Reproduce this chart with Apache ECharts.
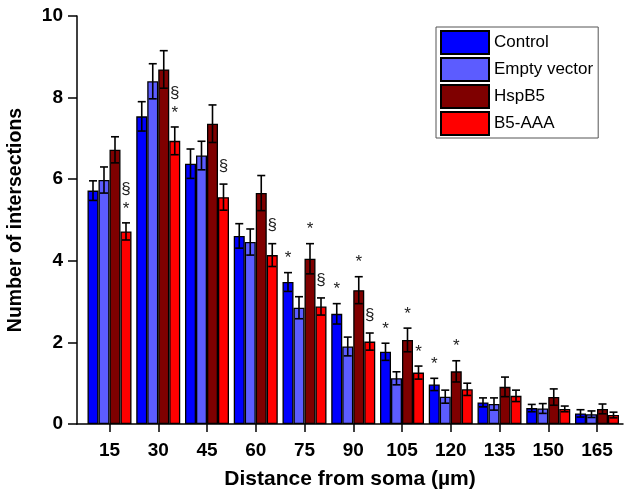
<!DOCTYPE html>
<html>
<head>
<meta charset="utf-8">
<script src="https://cdn.jsdelivr.net/npm/echarts@6/dist/echarts.min.js"></script>
<style>
  html, body { margin: 0; padding: 0; background: #fff; }
  #chart { width: 625px; height: 490px; }
</style>
</head>
<body>
<div id="chart"></div>
<script>
// distance from soma (um)
const distances = [15, 30, 45, 60, 75, 90, 105, 120, 135, 150, 165];

// mean number of intersections and SEM per group
const control     = [5.72, 7.54, 6.38, 4.61, 3.48, 2.70, 1.77, 0.97, 0.53, 0.39, 0.26];
const controlSem  = [0.24, 0.36, 0.36, 0.30, 0.23, 0.25, 0.21, 0.15, 0.11, 0.09, 0.09];
const emptyVec    = [5.98, 8.40, 6.58, 4.46, 2.85, 1.90, 1.12, 0.67, 0.49, 0.38, 0.24];
const emptyVecSem = [0.32, 0.43, 0.35, 0.32, 0.27, 0.23, 0.16, 0.16, 0.15, 0.12, 0.08];
const hspb5       = [6.72, 8.69, 7.36, 5.66, 4.05, 3.28, 2.06, 1.29, 0.91, 0.66, 0.37];
const hspb5Sem    = [0.32, 0.46, 0.46, 0.43, 0.37, 0.33, 0.29, 0.26, 0.24, 0.20, 0.12];
const b5aaa       = [4.72, 6.94, 5.56, 4.14, 2.88, 2.02, 1.26, 0.85, 0.69, 0.37, 0.22];
const b5aaaSem    = [0.21, 0.34, 0.32, 0.28, 0.21, 0.21, 0.16, 0.15, 0.14, 0.07, 0.07];

const seriesNames = ['Control', 'Empty vector', 'HspB5', 'B5-AAA'];
const yTicks = [0, 2, 4, 6, 8, 10];

// significance marks: [distance, group, marks from top to bottom]
const sigMarks = [
  [15, 'B5-AAA', '§*'],
  [30, 'B5-AAA', '§*'],
  [45, 'B5-AAA', '§'],
  [60, 'B5-AAA', '§'],
  [75, 'Control', '*'],
  [75, 'HspB5', '*'],
  [75, 'B5-AAA', '§'],
  [90, 'Control', '*'],
  [90, 'HspB5', '*'],
  [90, 'B5-AAA', '§'],
  [105, 'Control', '*'],
  [105, 'HspB5', '*'],
  [105, 'B5-AAA', '*'],
  [120, 'Control', '*'],
  [120, 'HspB5', '*']
];

const groups = [
  { mean: control, sem: controlSem, color: '#0000ff' },
  { mean: emptyVec, sem: emptyVecSem, color: '#5c5cff' },
  { mean: hspb5, sem: hspb5Sem, color: '#7f0000' },
  { mean: b5aaa, sem: b5aaaSem, color: '#ff0000' }
];

const BAR_W = 11;
const FONT = '"Liberation Sans", Arial, sans-serif';

const chart = echarts.init(document.getElementById('chart'));

// error bars data: [x, mean, sem, groupIndex]
const errData = [];
groups.forEach(function (g, s) {
  g.mean.forEach(function (m, i) {
    errData.push([distances[i], m, g.sem[i], s]);
  });
});

const barSeries = groups.map(function (g, s) {
  return {
    name: seriesNames[s],
    type: 'bar',
    barWidth: BAR_W,
    barGap: '0%',
    itemStyle: { color: g.color, borderColor: '#000', borderWidth: 1.3 },
    emphasis: { disabled: true },
    data: g.mean.map(function (m, i) { return [distances[i], m]; })
  };
});

const option = {
  animation: false,
  grid: { left: 77, right: 2, top: 16, bottom: 66, containLabel: false, outerBoundsMode: 'none' },
  legend: {
    data: seriesNames,
    orient: 'vertical',
    left: 436,
    top: 27,
    padding: [3, 5, 2, 4],
    itemGap: 2,
    itemWidth: 48,
    itemHeight: 23,
    icon: 'rect',
    borderColor: '#555',
    borderWidth: 1,
    selectedMode: false,
    textStyle: { fontFamily: FONT, fontSize: 17, color: '#000' }
  },
  xAxis: {
    type: 'value',
    min: 5,
    max: 173,
    name: 'Distance from soma (µm)',
    nameLocation: 'middle',
    nameGap: 45,
    nameTextStyle: { fontFamily: FONT, fontSize: 21, fontWeight: 'bold', color: '#000' },
    axisLine: { show: true, onZero: false, lineStyle: { color: '#000', width: 1.5 } },
    axisTick: { show: true, length: 8, customValues: distances, lineStyle: { color: '#000', width: 1.5 } },
    axisLabel: { customValues: distances, margin: 17, fontFamily: FONT, fontSize: 19, fontWeight: 'bold', color: '#000' },
    splitLine: { show: false }
  },
  yAxis: {
    type: 'value',
    min: 0,
    max: 10,
    interval: 2,
    name: 'Number of intersections',
    nameLocation: 'middle',
    nameGap: 51,
    nameTextStyle: { fontFamily: FONT, fontSize: 19.5, fontWeight: 'bold', color: '#000' },
    axisLine: { show: true, lineStyle: { color: '#000', width: 1.5 } },
    axisTick: { show: true, length: 9, customValues: yTicks, lineStyle: { color: '#000', width: 1.5 } },
    axisLabel: { customValues: yTicks, margin: 14, fontFamily: FONT, fontSize: 19, fontWeight: 'bold', color: '#000' },
    splitLine: { show: false }
  },
  series: barSeries.concat([
    {
      type: 'custom',
      name: 'errors',
      z: 5,
      silent: true,
      clip: false,
      encode: { x: 0, y: 1 },
      data: errData,
      renderItem: function (params, api) {
        const x = api.value(0), m = api.value(1), e = api.value(2), s = api.value(3);
        const top = api.coord([x, m + e]);
        const bot = api.coord([x, m - e]);
        const cx = top[0] + (s - 1.5) * BAR_W;
        const st = { stroke: '#000', lineWidth: 1.6 };
        return {
          type: 'group',
          children: [
            { type: 'line', shape: { x1: cx, y1: top[1], x2: cx, y2: bot[1] }, style: st },
            { type: 'line', shape: { x1: cx - 4, y1: top[1], x2: cx + 4, y2: top[1] }, style: st },
            { type: 'line', shape: { x1: cx - 4, y1: bot[1], x2: cx + 4, y2: bot[1] }, style: st }
          ]
        };
      }
    },
    {
      type: 'custom',
      name: 'marks',
      z: 6,
      silent: true,
      clip: false,
      encode: { x: 0, y: 1 },
      data: sigMarks.map(function (a) { return [a[0], 0]; }),
      renderItem: function (params, api) {
        const a = sigMarks[params.dataIndex];
        const s = seriesNames.indexOf(a[1]);
        const i = distances.indexOf(a[0]);
        const g = groups[s];
        const p = api.coord([a[0], g.mean[i] + g.sem[i]]);
        const cx = p[0] + (s - 1.5) * BAR_W;
        const marks = a[2].split('');
        return {
          type: 'group',
          children: marks.map(function (ch, k) {
            const level = marks.length - 1 - k;
            return {
              type: 'text',
              style: {
                text: ch,
                x: cx,
                y: p[1] - 18 - 16 * level + (ch === '*' ? 4 : 0),
                align: 'center',
                verticalAlign: 'middle',
                font: '17px ' + FONT,
                fill: '#222'
              }
            };
          })
        };
      }
    }
  ])
};

chart.setOption(option);
</script>
</body>
</html>
